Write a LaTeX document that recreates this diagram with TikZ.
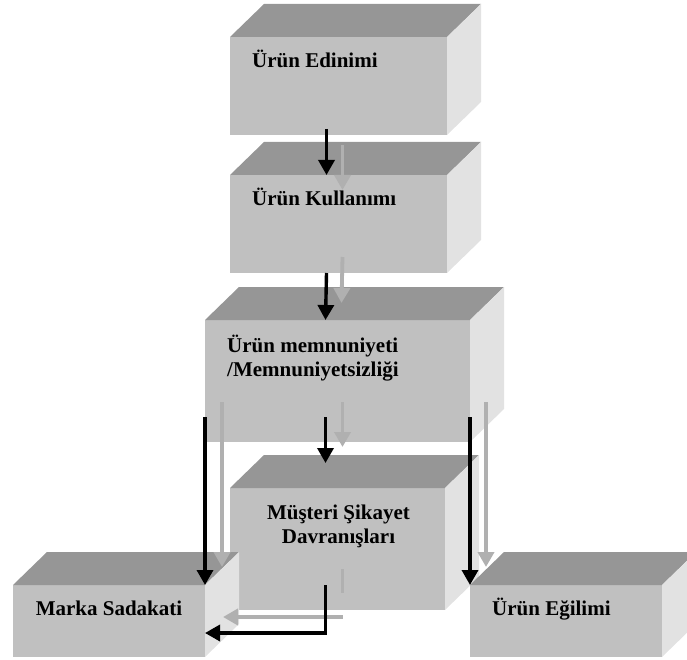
\documentclass[tikz,border=0pt]{standalone}
\usepackage{fontspec}
\setmainfont{Liberation Serif}
\usepackage{tikz}
\usetikzlibrary{calc}
\usetikzlibrary{arrows.meta}

\definecolor{onyuz}{RGB}{192,192,192}
\definecolor{ustyuz}{RGB}{150,150,150}
\definecolor{yanyuz}{RGB}{226,226,226}
\definecolor{golge}{RGB}{176,176,176}

\tikzset{
  kutu/.style={fill=onyuz, inner sep=0, outer sep=0, anchor=north west},
  yazi/.style={font=\fontsize{21}{24}\selectfont\bfseries, inner sep=0},
  siyahok/.style={black, line width=3.4pt, -{Triangle[length=15pt,width=16pt]}},
  griok/.style={golge, line width=3.8pt, -{Triangle[length=15pt,width=16pt]}},
}

\begin{document}
\begin{tikzpicture}[x=1pt, y=-1pt]
\useasboundingbox (0,0) rectangle (687,660);

\foreach \ad/\x/\y/\w/\h in {edinim/230/37/217/98, kullanim/230/175/217/98, memnun/205/320/265/122, sikayet/230/488/215/122, sadakat/13/585/192/72, egilim/470/585/192/72} {
  \node[kutu, minimum width=\w pt, minimum height=\h pt] (\ad) at (\x,\y) {};
  \fill[ustyuz] (\ad.north west) -- ++(34,-33) -- ($(\ad.north east)+(34,-33)$) -- (\ad.north east) -- cycle;
  \fill[yanyuz] (\ad.north east) -- ++(34,-33) -- ($(\ad.south east)+(34,-33)$) -- (\ad.south east) -- cycle;
}

\node[yazi, anchor=base west] (t1) at ([xshift=22pt,yshift=-31pt]edinim.north west) {Ürün Edinimi};
\node[yazi, anchor=base west] (t2) at ([xshift=22pt,yshift=-31pt]kullanim.north west) {Ürün Kullanımı};
\node[yazi, anchor=base west, align=left] (t3) at ([xshift=22pt,yshift=-56pt]memnun.north west) {Ürün memnuniyeti\\/Memnuniyetsizliği};
\node[yazi, anchor=base, align=center] (t4) at ([xshift=1pt,yshift=-55pt]sikayet.north) {Müşteri Şikayet\\Davranışları};
\node[yazi, anchor=base] (t5) at ([yshift=-30pt]sadakat.north) {Marka Sadakati};
\node[yazi, anchor=base west] (t6) at ([xshift=22pt,yshift=-30pt]egilim.north west) {Ürün Eğilimi};

\draw[griok] ([xshift=4pt,yshift=-10pt]edinim.south) -- ([xshift=4pt,yshift=-15pt]kullanim.north);
\draw[griok] ([xshift=4pt,yshift=16pt]kullanim.south) -- ([xshift=4pt,yshift=17pt]memnun.north);
\draw[griok] ([xshift=5pt,yshift=40pt]memnun.south) -- ([xshift=5pt,yshift=41pt]sikayet.north);
\draw[griok] ([xshift=17pt,yshift=40pt]memnun.south west) -- ([xshift=17pt,yshift=18pt]sadakat.north east);
\draw[griok] ([xshift=16pt,yshift=40pt]memnun.south east) -- ([xshift=16pt,yshift=18pt]egilim.north west);
\draw[golge, line width=3.8pt] ([xshift=5pt,yshift=41pt]sikayet.south) -- ([xshift=5pt,yshift=17pt]sikayet.south);
\draw[griok] ([xshift=5pt,yshift=-7pt]sikayet.south) -- ([xshift=18pt,yshift=4pt]sadakat.east);

\draw[siyahok] ([xshift=-12pt,yshift=6pt]edinim.south) -- ([xshift=-12pt]kullanim.north);
\draw[siyahok] ([xshift=-12pt]kullanim.south) -- ([xshift=-12pt]memnun.north);
\draw[siyahok] ([xshift=-12pt,yshift=25pt]memnun.south) -- ([xshift=-12pt,yshift=25pt]sikayet.north);
\draw[siyahok] ([yshift=25pt]memnun.south west) -- (sadakat.north east);
\draw[siyahok] ([yshift=25pt]memnun.south east) -- (egilim.north west);
\draw[siyahok] ([xshift=-12pt,yshift=25pt]sikayet.south) |- ([yshift=-12pt]sadakat.east);

\end{tikzpicture}
\end{document}
